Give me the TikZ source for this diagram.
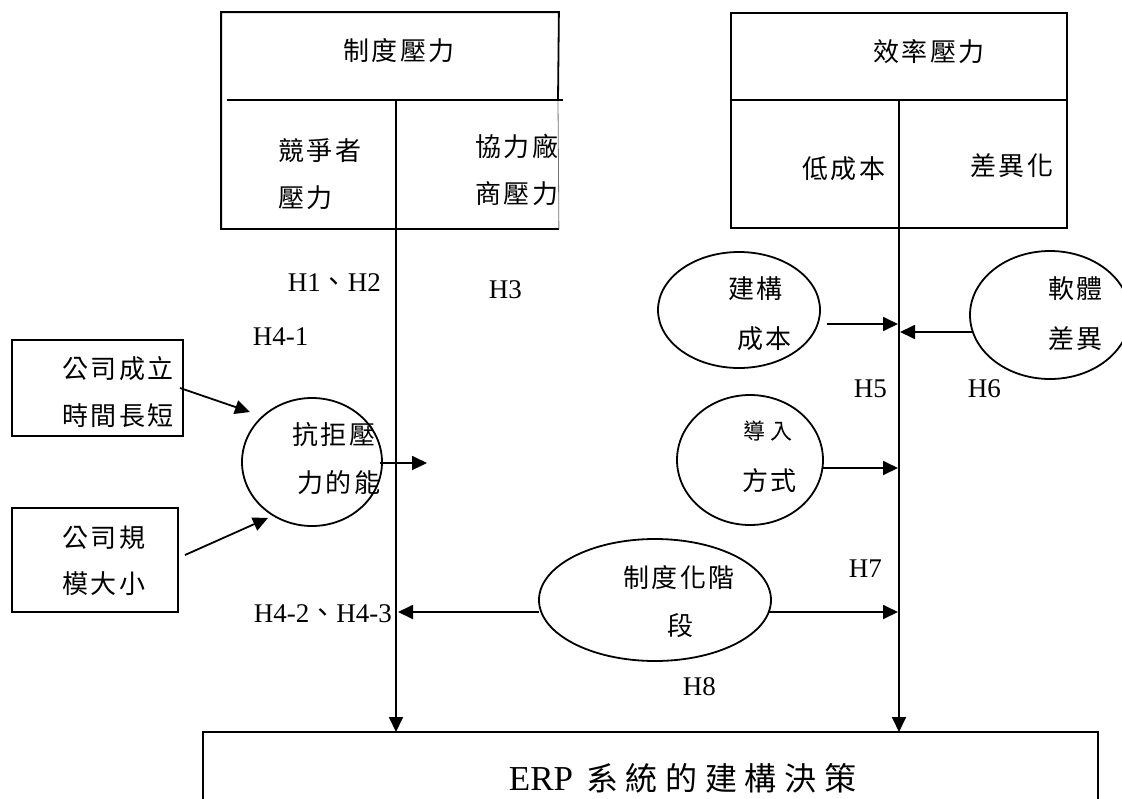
\documentclass[tikz,border=0pt]{standalone}
\usepackage{fontspec}
\setmainfont{Liberation Serif}
\newfontfamily\cjk[LetterSpace=8]{Noto Sans CJK TC}
\newfontfamily\cjksmall[LetterSpace=23]{Noto Sans CJK TC}
\newfontfamily\cjkbig[LetterSpace=24]{Noto Sans CJK TC}
\usetikzlibrary{arrows.meta,shapes.geometric}
\begin{document}
\begin{tikzpicture}[x=1pt,y=-1pt,line width=1.8pt,
  zh/.style={anchor=base west,inner sep=0pt,font=\fontsize{26pt}{26pt}\cjk},
  zhs/.style={anchor=base west,inner sep=0pt,font=\fontsize{22pt}{22pt}\cjksmall},
  lab/.style={anchor=base west,inner sep=0pt,font=\fontsize{27pt}{27pt}\selectfont},
  boxnode/.style={draw,rectangle,inner sep=0pt},
  ell/.style={draw,ellipse,inner sep=0pt},
  arr/.style={-{Triangle[length=15pt,width=14pt]}}]
\useasboundingbox (0,0) rectangle (1122,798);

% top-left box (institutional pressure)
\node[rectangle,inner sep=0pt,minimum width=336pt,minimum height=215pt] (inst) at (390,120.5) {};
\draw (558,100) -- (inst.north east) -- (inst.north west) -- (inst.south west) -- (inst.south east);
\draw[line width=0.8pt,black!55] (558,100) -- (inst.south east);
\draw (227,100) -- (563,100);
% top-right box (efficiency pressure)
\node[boxnode,minimum width=336pt,minimum height=215pt] (eff) at (899,120.5) {};
\draw (eff.west |- 0,100) -- (eff.east |- 0,100);

% bottom ERP box
\node[boxnode,minimum width=895pt,minimum height=120pt] (erp) at (650.5,792) {};

% left boxes
\node[boxnode,minimum width=171pt,minimum height=96pt] (age) at (97.5,388) {};
\node[boxnode,minimum width=166pt,minimum height=104pt] (size) at (95,560) {};

% ellipses
\node[ell,minimum width=140pt,minimum height=128pt] (resist) at (312,462) {};
\node[ell,minimum width=162pt,minimum height=116pt] (cost) at (739,310) {};
\node[ell,minimum width=160pt,minimum height=128pt] (soft) at (1050,315) {};
\node[ell,minimum width=146pt,minimum height=130pt] (impl) at (750,460) {};
\node[ell,minimum width=232pt,minimum height=122pt] (stage) at (655,600) {};

% texts
\node[zh] (t1) at (343,60) {制度壓力};
\node[zh] (t2) at (873,61) {效率壓力};
\node[zh] (t3) at (278,160) {競爭者};
\node[zh] (t4) at (278,207) {壓力};
\node[zh] (t5) at (475,156) {協力廠};
\node[zh] (t6) at (475,203) {商壓力};
\node[zh] (t7) at (802,178) {低成本};
\node[zh] (t8) at (970,175) {差異化};
\node[zh] (t9) at (62,378) {公司成立};
\node[zh] (t10) at (62,425) {時間長短};
\node[zh] (t11) at (62,547) {公司規};
\node[zh] (t12) at (62,593) {模大小};
\node[zh] (t13) at (292,444) {抗拒壓};
\node[zh] (t14) at (297,492) {力的能};
\node[zh] (t15) at (728,298) {建構};
\node[zh] (t16) at (737,348) {成本};
\node[zh] (t17) at (1048,298) {軟體};
\node[zh] (t18) at (1048,348) {差異};
\node[zhs] (t19) at (743,439) {導入};
\node[zh] (t20) at (742,490) {方式};
\node[zh] (t21) at (623,587) {制度化階};
\node[zh] (t22) at (667,635) {段};
\node[anchor=base west,inner sep=0pt] (t23) at (508,790)
  {{\fontsize{35pt}{35pt}\selectfont ERP}\hspace{13pt}{\fontsize{32pt}{32pt}\cjkbig 系統的建構決策}};

% hypothesis labels
\node[lab] (h12) at (287,291) {H1{\cjk 、}H2};
\node[lab] (h41) at (252,345) {H4-1};
\node[lab] (h3) at (488,298) {H3};
\node[lab] (h5) at (853,397) {H5};
\node[lab] (h6) at (967,397) {H6};
\node[lab] (h7) at (848,577) {H7};
\node[lab] (h8) at (682,695) {H8};
\node[lab] (h423) at (253,622) {H4-2{\cjk 、}H4-3};

% connector end points
\coordinate (ltop) at (396,100);
\coordinate (lbot) at (396,732);
\coordinate (rtop) at (899,100);
\coordinate (rbot) at (899,732);
\coordinate (a1s) at (180,388);
\coordinate (a1e) at (250,412);
\coordinate (a2s) at (185,555);
\coordinate (a2e) at (268,518);
\coordinate (a3s) at (380,463);
\coordinate (a3e) at (427,463);
\coordinate (a4s) at (827,324);
\coordinate (a4e) at (898,324);
\coordinate (a5s) at (972,332);
\coordinate (a5e) at (900,332);
\coordinate (a6s) at (822,468);
\coordinate (a6e) at (898,468);
\coordinate (a7s) at (539,612);
\coordinate (a7e) at (398,612);
\coordinate (a8s) at (768,612);
\coordinate (a8e) at (898,612);

% connectors
\draw[arr] (ltop) -- (lbot);
\draw[arr] (rtop) -- (rbot);
\draw[arr] (a1s) -- (a1e);
\draw[arr] (a2s) -- (a2e);
\draw[arr] (a3s) -- (a3e);
\draw[arr] (a4s) -- (a4e);
\draw[arr] (a5s) -- (a5e);
\draw[arr] (a6s) -- (a6e);
\draw[arr] (a7s) -- (a7e);
\draw[arr] (a8s) -- (a8e);
\end{tikzpicture}
\end{document}
